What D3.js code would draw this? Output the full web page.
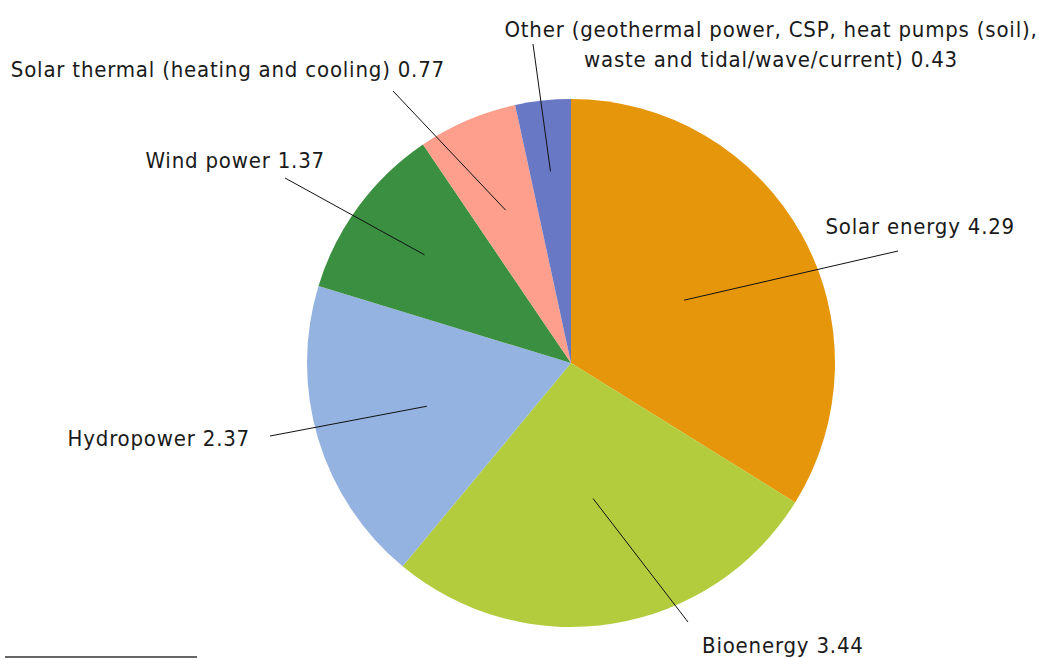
<!DOCTYPE html>
<html>
<head>
<meta charset="utf-8">
<script src="https://cdn.jsdelivr.net/npm/d3@7"></script>
<style>
  body { margin: 0; background: #fff; }
  text { font-family: "DejaVu Sans Condensed", "DejaVu Sans", sans-serif; font-size: 22px; fill: #1a1a1a; letter-spacing: 0.8px; }
</style>
</head>
<body>
<script>
// data
var sources = ['Solar energy', 'Bioenergy', 'Hydropower', 'Wind power',
    'Solar thermal (heating and cooling)',
    'Other (geothermal power, CSP, heat pumps (soil), waste and tidal/wave/current)'];
var values = [4.29, 3.44, 2.37, 1.37, 0.77, 0.43];
var colors = ['#e5960b', '#b2cc3e', '#95b3e0', '#3a8f41', '#fd9f8c', '#6878c4'];

// label layout: text lines, anchor, text pos, leader end, leader start radius fraction
var labels = [
    { lines: ['Solar energy 4.29'], anchor: 'end', x: 1015, y: 234, lx: 898, ly: 251, rf: 0.49 },
    { lines: ['Bioenergy 3.44'], anchor: 'start', x: 702, y: 653, lx: 688, ly: 622, rf: 0.52 },
    { lines: ['Hydropower 2.37'], anchor: 'end', x: 250, y: 446, lx: 270, ly: 436, rf: 0.57 },
    { lines: ['Wind power 1.37'], anchor: 'end', x: 325, y: 168, lx: 285, ly: 178, rf: 0.69 },
    { lines: ['Solar thermal (heating and cooling) 0.77'], anchor: 'end', x: 445, y: 77, lx: 393, ly: 91, rf: 0.63 },
    { lines: ['Other (geothermal power, CSP, heat pumps (soil),', 'waste and tidal/wave/current) 0.43'],
      anchor: 'middle', x: 771, y: 37, lx: 533, ly: 44, rf: 0.73 }
];

var width = 1039;
var height = 659;
var cx = 571, cy = 363, radius = 264;

var svg = d3.select('body').append('svg')
    .attr('width', width)
    .attr('height', height);

var pie = d3.pie().sort(null).value(function(d) { return d; });
var arcs = pie(values);

var arc = d3.arc().innerRadius(0).outerRadius(radius);

var g = svg.append('g')
    .attr('transform', 'translate(' + cx + ',' + cy + ')');

g.selectAll('path')
    .data(arcs)
    .enter().append('path')
    .attr('d', arc)
    .attr('fill', function(d, i) { return colors[i]; });

// leader lines
svg.selectAll('line.leader')
    .data(arcs)
    .enter().append('line')
    .attr('class', 'leader')
    .attr('x1', function(d, i) {
        var a = (d.startAngle + d.endAngle) / 2;
        return cx + Math.sin(a) * radius * labels[i].rf;
    })
    .attr('y1', function(d, i) {
        var a = (d.startAngle + d.endAngle) / 2;
        return cy - Math.cos(a) * radius * labels[i].rf;
    })
    .attr('x2', function(d, i) { return labels[i].lx; })
    .attr('y2', function(d, i) { return labels[i].ly; })
    .attr('stroke', '#111')
    .attr('stroke-width', 1);

// labels
var t = svg.selectAll('text.lbl')
    .data(labels)
    .enter().append('text')
    .attr('class', 'lbl')
    .attr('text-anchor', function(d) { return d.anchor; });

t.selectAll('tspan')
    .data(function(d) { return d.lines.map(function(l) { return { l: l, x: d.x, y: d.y }; }); })
    .enter().append('tspan')
    .attr('x', function(d) { return d.x; })
    .attr('y', function(d, j) { return d.y + j * 30; })
    .text(function(d) { return d.l; });

// footnote rule
svg.append('line')
    .attr('x1', 5).attr('x2', 197)
    .attr('y1', 657).attr('y2', 657)
    .attr('stroke', '#333')
    .attr('stroke-width', 1.5);
</script>
</body>
</html>
